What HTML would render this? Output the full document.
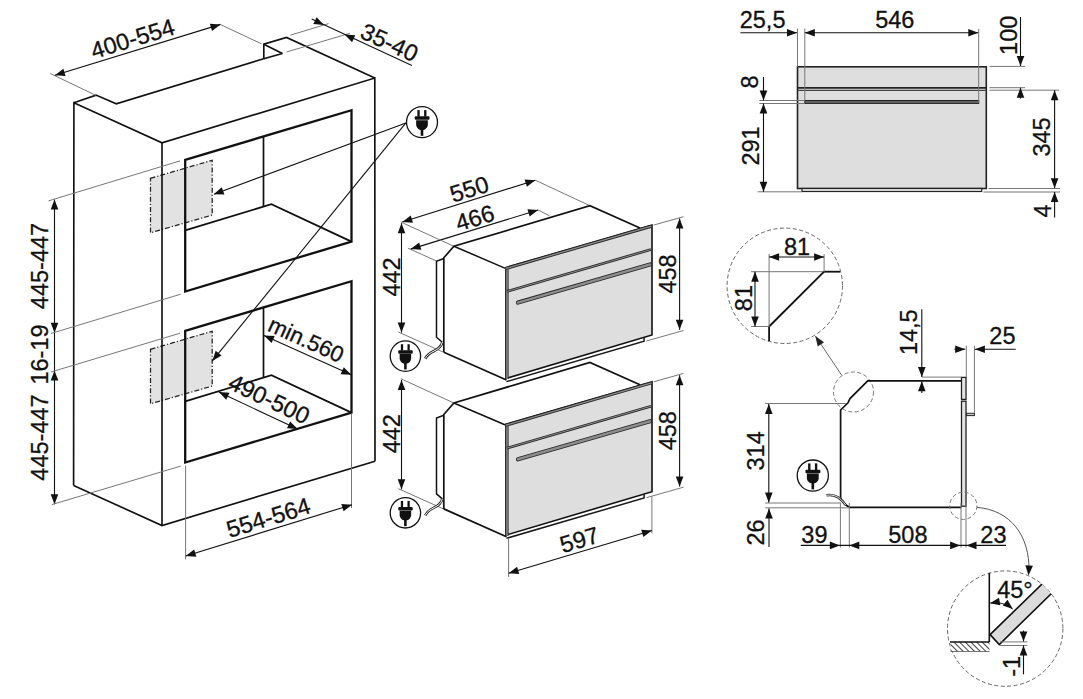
<!DOCTYPE html><html><head><meta charset="utf-8"><style>html,body{margin:0;padding:0;background:#fff;}svg{display:block;}text{font-family:"Liberation Sans",sans-serif;fill:#111;}</style></head><body>
<svg width="1083" height="699" viewBox="0 0 1083 699">
<rect width="1083" height="699" fill="#fff"/>
<polygon points="150.5,178.3 212.2,160.3 212.2,215.1 150.5,232.8" fill="#e2e2e2" stroke="#222" stroke-width="1.25" stroke-linejoin="miter" stroke-dasharray="5,2,1.2,2"/>
<polygon points="150.5,349.3 212.2,331.3 212.2,386.1 150.5,403.8" fill="#e2e2e2" stroke="#222" stroke-width="1.25" stroke-linejoin="miter" stroke-dasharray="5,2,1.2,2"/>
<polyline points="73.9,102.7 96,95.1 116.3,103.8 263.8,58.7 263.8,44.2 286.5,37.5 374.8,78" fill="none" stroke="#111" stroke-width="1.65" stroke-linejoin="miter" />
<line x1="263.8" y1="44.2" x2="282.4" y2="53.5" stroke="#111" stroke-width="1.65" />
<line x1="282.4" y1="53.5" x2="263.8" y2="58.7" stroke="#111" stroke-width="1.65" />
<polyline points="73.6,485.5 73.9,102.7 162,142.8 374.8,78 375,461.2" fill="none" stroke="#111" stroke-width="1.65" stroke-linejoin="miter" />
<polyline points="73.6,485.5 162,525.5 375,461.2" fill="none" stroke="#111" stroke-width="1.65" stroke-linejoin="miter" />
<line x1="162" y1="142.8" x2="162" y2="525.5" stroke="#111" stroke-width="1.65" />
<polygon points="185.2,159.8 351.5,110.2 351.5,241.6 185.2,291.5" fill="none" stroke="#111" stroke-width="2.3" stroke-linejoin="miter" />
<line x1="263.5" y1="136.3" x2="263.5" y2="206.8" stroke="#111" stroke-width="1.7" />
<polyline points="185.2,230.4 271.4,204.2 351.5,241.6" fill="none" stroke="#111" stroke-width="1.8" stroke-linejoin="miter" />
<polygon points="185.2,330.8 351.5,281.2 351.5,412.6 185.2,462.5" fill="none" stroke="#111" stroke-width="2.3" stroke-linejoin="miter" />
<line x1="263.5" y1="307.3" x2="263.5" y2="377.8" stroke="#111" stroke-width="1.7" />
<polyline points="185.2,401.4 271.4,375.2 351.5,412.6" fill="none" stroke="#111" stroke-width="1.8" stroke-linejoin="miter" />
<line x1="50.2" y1="73.5" x2="95.8" y2="95.3" stroke="#777" stroke-width="1.0" />
<line x1="220.5" y1="24.6" x2="261.5" y2="43.8" stroke="#777" stroke-width="1.0" />
<line x1="54.9" y1="75.3" x2="220.5" y2="24.4" stroke="#111" stroke-width="1.1" />
<polygon points="54.9,75.3 63.34,68.73 65.58,75.99" fill="#111"/>
<polygon points="220.5,24.4 212.06,30.97 209.82,23.71" fill="#111"/>
<text transform="translate(132.5,38.6) rotate(-17.1)" x="0" y="8.22" text-anchor="middle" font-size="23.5" stroke="#111" stroke-width="0.3">400-554</text>
<line x1="290.3" y1="35.2" x2="328.5" y2="23.6" stroke="#777" stroke-width="1.0" />
<line x1="286.5" y1="52" x2="349.8" y2="33.3" stroke="#777" stroke-width="1.0" />
<line x1="311.7" y1="19" x2="411.9" y2="65.6" stroke="#111" stroke-width="1.1" />
<polygon points="324,24.9 313.34,24 316.63,17.15" fill="#111"/>
<polygon points="344.6,34.6 355.27,35.33 352.09,42.24" fill="#111"/>
<text transform="translate(389.5,42.3) rotate(24.8)" x="0" y="8.22" text-anchor="middle" font-size="23.5" stroke="#111" stroke-width="0.3">35-40</text>
<line x1="54.5" y1="199.5" x2="54.5" y2="504.2" stroke="#111" stroke-width="1.1" />
<polygon points="54.5,199.5 58.3,209.5 50.7,209.5" fill="#111"/>
<polygon points="54.5,332.8 50.7,322.8 58.3,322.8" fill="#111"/>
<polygon points="54.5,370.4 58.3,380.4 50.7,380.4" fill="#111"/>
<polygon points="54.5,504.2 50.7,494.2 58.3,494.2" fill="#111"/>
<line x1="48.5" y1="200.9" x2="180" y2="160.9" stroke="#777" stroke-width="1.0" />
<line x1="51" y1="333.5" x2="180.7" y2="294.2" stroke="#777" stroke-width="1.0" />
<line x1="51" y1="372" x2="180" y2="333.2" stroke="#777" stroke-width="1.0" />
<line x1="51.8" y1="504.6" x2="180.7" y2="466.1" stroke="#777" stroke-width="1.0" />
<text transform="translate(40,266) rotate(-90)" x="0" y="8.22" text-anchor="middle" font-size="23.5" stroke="#111" stroke-width="0.3">445-447</text>
<text transform="translate(40,354.5) rotate(-90)" x="0" y="8.22" text-anchor="middle" font-size="23.5" stroke="#111" stroke-width="0.3">16-19</text>
<text transform="translate(40,437.5) rotate(-90)" x="0" y="8.22" text-anchor="middle" font-size="23.5" stroke="#111" stroke-width="0.3">445-447</text>
<line x1="405.9" y1="122.9" x2="214" y2="194.3" stroke="#111" stroke-width="1.1" />
<polygon points="213.7,194.3 221.75,187.26 224.4,194.38" fill="#111"/>
<line x1="405.9" y1="122.9" x2="212.3" y2="360.9" stroke="#111" stroke-width="1.1" />
<polygon points="212.3,360.9 215.66,350.74 221.56,355.54" fill="#111"/>
<g transform="translate(422,122.2)">
<circle cx="0" cy="0" r="15.5" fill="#fff" stroke="#111" stroke-width="1.3"/>
<g transform="scale(1.01)" fill="#111">
<rect x="-4.6" y="-12" width="2.3" height="6.5"/>
<rect x="2.1" y="-12" width="2.3" height="6.5"/>
<rect x="-7.2" y="-5.8" width="14.6" height="3.4" rx="1"/>
<path d="M-5.8,-2 L5.8,-2 L5.8,2.5 Q5.5,6 2,7.6 L-2,7.6 Q-5.5,6 -5.8,2.5 Z"/>
<rect x="-1.3" y="7" width="2.6" height="6.5"/>
</g></g>
<line x1="264" y1="335.4" x2="351.3" y2="374.8" stroke="#111" stroke-width="1.1" />
<polygon points="264,335.4 274.68,336.05 271.55,342.98" fill="#111"/>
<polygon points="351.3,374.8 340.62,374.15 343.75,367.22" fill="#111"/>
<text transform="translate(306.2,339.5) rotate(24.3)" x="0" y="7.87" text-anchor="middle" font-size="22.5" stroke="#111" stroke-width="0.3">min.560</text>
<line x1="218.8" y1="392" x2="297.6" y2="429.1" stroke="#111" stroke-width="1.1" />
<polygon points="218.8,392 229.47,392.82 226.23,399.7" fill="#111"/>
<polygon points="297.6,429.1 286.93,428.28 290.17,421.4" fill="#111"/>
<text transform="translate(269.2,399) rotate(25.2)" x="0" y="8.22" text-anchor="middle" font-size="23.5" stroke="#111" stroke-width="0.3">490-500</text>
<line x1="185.6" y1="465.6" x2="185.6" y2="559.4" stroke="#777" stroke-width="1.0" />
<line x1="351.5" y1="413.5" x2="351.5" y2="508" stroke="#777" stroke-width="1.0" />
<line x1="185.7" y1="556" x2="352" y2="504.7" stroke="#111" stroke-width="1.1" />
<polygon points="185.7,556 194.14,549.42 196.38,556.68" fill="#111"/>
<polygon points="352,504.7 343.56,511.28 341.32,504.02" fill="#111"/>
<text transform="translate(268.3,517.5) rotate(-17.1)" x="0" y="8.22" text-anchor="middle" font-size="23.5" stroke="#111" stroke-width="0.3">554-564</text>
<g transform="translate(0,0)">
<line x1="535.3" y1="180.2" x2="589.9" y2="205.7" stroke="#777" stroke-width="1.0" />
<line x1="407.9" y1="248.1" x2="436.5" y2="261" stroke="#777" stroke-width="1.0" />
<line x1="538.1" y1="210" x2="549.5" y2="215.8" stroke="#777" stroke-width="1.0" />
<line x1="402.3" y1="222.1" x2="535.3" y2="180.2" stroke="#111" stroke-width="1.1" />
<polygon points="402.3,222.1 410.7,215.47 412.98,222.72" fill="#111"/>
<polygon points="535.3,180.2 526.9,186.83 524.62,179.58" fill="#111"/>
<line x1="410.7" y1="249.1" x2="538.1" y2="210" stroke="#111" stroke-width="1.1" />
<polygon points="410.7,249.1 419.14,242.53 421.37,249.8" fill="#111"/>
<polygon points="538.1,210 529.66,216.57 527.43,209.3" fill="#111"/>
<text transform="translate(469.3,189) rotate(-17.5)" x="0" y="8.22" text-anchor="middle" font-size="23.5" stroke="#111" stroke-width="0.3">550</text>
<text transform="translate(474.9,217.9) rotate(-17)" x="0" y="8.22" text-anchor="middle" font-size="23.5" stroke="#111" stroke-width="0.3">466</text>
<line x1="400.8" y1="222" x2="453.9" y2="246.3" stroke="#777" stroke-width="1.0" />
<line x1="398.3" y1="332" x2="443.4" y2="352.2" stroke="#777" stroke-width="1.0" />
<line x1="401.5" y1="223.2" x2="401.5" y2="332.6" stroke="#111" stroke-width="1.1" />
<polygon points="401.5,223.2 405.3,233.2 397.7,233.2" fill="#111"/>
<polygon points="401.5,332.6 397.7,322.6 405.3,322.6" fill="#111"/>
<text transform="translate(392,277) rotate(-90)" x="0" y="8.22" text-anchor="middle" font-size="23.5" stroke="#111" stroke-width="0.3">442</text>
<polyline points="443.8,352.2 443.8,257.8 453.9,246.3 589.9,205.7 640,228" fill="none" stroke="#111" stroke-width="1.7" stroke-linejoin="miter" />
<line x1="453.9" y1="246.3" x2="506" y2="268.6" stroke="#111" stroke-width="1.5" />
<line x1="443.8" y1="352.2" x2="506.5" y2="380" stroke="#111" stroke-width="1.7" />
<polyline points="443.8,258.5 436.5,261.3 436.5,337.2 442.3,342.2" fill="none" stroke="#111" stroke-width="1.5" stroke-linejoin="miter" />
<polygon points="506,267.5 652,225.1 652,335 506,378.4" fill="#dedede" stroke="#111" stroke-width="1.6" stroke-linejoin="miter" />
<line x1="507" y1="268" x2="507" y2="379" stroke="#262626" stroke-width="3.2" stroke-linecap="butt"/>
<line x1="507" y1="268" x2="507" y2="379" stroke="#8c8c8c" stroke-width="1.5000000000000002" stroke-linecap="butt"/>
<line x1="505.5" y1="268.6" x2="651.5" y2="226.2" stroke="#262626" stroke-width="3.0" stroke-linecap="butt"/>
<line x1="505.5" y1="268.6" x2="651.5" y2="226.2" stroke="#8c8c8c" stroke-width="1.3" stroke-linecap="butt"/>
<line x1="507" y1="291.4" x2="651" y2="249.5" stroke="#262626" stroke-width="2.7" stroke-linecap="butt"/>
<line x1="507" y1="291.4" x2="651" y2="249.5" stroke="#8c8c8c" stroke-width="1.0000000000000002" stroke-linecap="butt"/>
<line x1="518" y1="302.6" x2="650" y2="264.5" stroke="#262626" stroke-width="4.2" stroke-linecap="round"/>
<line x1="518" y1="302.6" x2="650" y2="264.5" stroke="#8c8c8c" stroke-width="2.5" stroke-linecap="round"/>
<polyline points="506.5,381.6 644.1,341.3 644.1,337.6" fill="none" stroke="#1a1a1a" stroke-width="1.5" stroke-linejoin="miter" />
<line x1="653.7" y1="225.1" x2="683.5" y2="216.7" stroke="#777" stroke-width="1.0" />
<line x1="646.3" y1="341" x2="683.5" y2="330.5" stroke="#777" stroke-width="1.0" />
<line x1="679.6" y1="218.5" x2="679.6" y2="329.8" stroke="#111" stroke-width="1.1" />
<polygon points="679.6,218.5 683.4,228.5 675.8,228.5" fill="#111"/>
<polygon points="679.6,329.8 675.8,319.8 683.4,319.8" fill="#111"/>
<text transform="translate(668.1,274) rotate(-90)" x="0" y="8.22" text-anchor="middle" font-size="23.5" stroke="#111" stroke-width="0.3">458</text>
<path d="M442.2,342.6 C441,347 438,349 434,351 C430,353 427,355 425.2,358.6" fill="none" stroke="#222" stroke-width="2.6"/>
<path d="M442.2,342.6 C441,347 438,349 434,351 C430,353 427,355 425.2,358.6" fill="none" stroke="#fff" stroke-width="1.0"/>
<g transform="translate(405.4,356.1)">
<circle cx="0" cy="0" r="15.2" fill="#fff" stroke="#111" stroke-width="1.3"/>
<g transform="scale(0.99)" fill="#111">
<rect x="-4.6" y="-12" width="2.3" height="6.5"/>
<rect x="2.1" y="-12" width="2.3" height="6.5"/>
<rect x="-7.2" y="-5.8" width="14.6" height="3.4" rx="1"/>
<path d="M-5.8,-2 L5.8,-2 L5.8,2.5 Q5.5,6 2,7.6 L-2,7.6 Q-5.5,6 -5.8,2.5 Z"/>
<rect x="-1.3" y="7" width="2.6" height="6.5"/>
</g></g>
</g>
<g transform="translate(0,156.7)">
<line x1="400.8" y1="222" x2="453.9" y2="246.3" stroke="#777" stroke-width="1.0" />
<line x1="398.3" y1="332" x2="443.4" y2="352.2" stroke="#777" stroke-width="1.0" />
<line x1="401.5" y1="223.2" x2="401.5" y2="332.6" stroke="#111" stroke-width="1.1" />
<polygon points="401.5,223.2 405.3,233.2 397.7,233.2" fill="#111"/>
<polygon points="401.5,332.6 397.7,322.6 405.3,322.6" fill="#111"/>
<text transform="translate(392,277) rotate(-90)" x="0" y="8.22" text-anchor="middle" font-size="23.5" stroke="#111" stroke-width="0.3">442</text>
<polyline points="443.8,352.2 443.8,257.8 453.9,246.3 589.9,205.7 640,228" fill="none" stroke="#111" stroke-width="1.7" stroke-linejoin="miter" />
<line x1="453.9" y1="246.3" x2="506" y2="268.6" stroke="#111" stroke-width="1.5" />
<line x1="443.8" y1="352.2" x2="506.5" y2="380" stroke="#111" stroke-width="1.7" />
<polyline points="443.8,258.5 436.5,261.3 436.5,337.2 442.3,342.2" fill="none" stroke="#111" stroke-width="1.5" stroke-linejoin="miter" />
<polygon points="506,267.5 652,225.1 652,335 506,378.4" fill="#dedede" stroke="#111" stroke-width="1.6" stroke-linejoin="miter" />
<line x1="507" y1="268" x2="507" y2="379" stroke="#262626" stroke-width="3.2" stroke-linecap="butt"/>
<line x1="507" y1="268" x2="507" y2="379" stroke="#8c8c8c" stroke-width="1.5000000000000002" stroke-linecap="butt"/>
<line x1="505.5" y1="268.6" x2="651.5" y2="226.2" stroke="#262626" stroke-width="3.0" stroke-linecap="butt"/>
<line x1="505.5" y1="268.6" x2="651.5" y2="226.2" stroke="#8c8c8c" stroke-width="1.3" stroke-linecap="butt"/>
<line x1="507" y1="291.4" x2="651" y2="249.5" stroke="#262626" stroke-width="2.7" stroke-linecap="butt"/>
<line x1="507" y1="291.4" x2="651" y2="249.5" stroke="#8c8c8c" stroke-width="1.0000000000000002" stroke-linecap="butt"/>
<line x1="518" y1="302.6" x2="650" y2="264.5" stroke="#262626" stroke-width="4.2" stroke-linecap="round"/>
<line x1="518" y1="302.6" x2="650" y2="264.5" stroke="#8c8c8c" stroke-width="2.5" stroke-linecap="round"/>
<polyline points="506.5,381.6 644.1,341.3 644.1,337.6" fill="none" stroke="#1a1a1a" stroke-width="1.5" stroke-linejoin="miter" />
<line x1="653.7" y1="225.1" x2="683.5" y2="216.7" stroke="#777" stroke-width="1.0" />
<line x1="646.3" y1="341" x2="683.5" y2="330.5" stroke="#777" stroke-width="1.0" />
<line x1="679.6" y1="218.5" x2="679.6" y2="329.8" stroke="#111" stroke-width="1.1" />
<polygon points="679.6,218.5 683.4,228.5 675.8,228.5" fill="#111"/>
<polygon points="679.6,329.8 675.8,319.8 683.4,319.8" fill="#111"/>
<text transform="translate(668.1,274) rotate(-90)" x="0" y="8.22" text-anchor="middle" font-size="23.5" stroke="#111" stroke-width="0.3">458</text>
<path d="M442.2,342.6 C441,347 438,349 434,351 C430,353 427,355 425.2,358.6" fill="none" stroke="#222" stroke-width="2.6"/>
<path d="M442.2,342.6 C441,347 438,349 434,351 C430,353 427,355 425.2,358.6" fill="none" stroke="#fff" stroke-width="1.0"/>
<g transform="translate(405.4,356.1)">
<circle cx="0" cy="0" r="15.2" fill="#fff" stroke="#111" stroke-width="1.3"/>
<g transform="scale(0.99)" fill="#111">
<rect x="-4.6" y="-12" width="2.3" height="6.5"/>
<rect x="2.1" y="-12" width="2.3" height="6.5"/>
<rect x="-7.2" y="-5.8" width="14.6" height="3.4" rx="1"/>
<path d="M-5.8,-2 L5.8,-2 L5.8,2.5 Q5.5,6 2,7.6 L-2,7.6 Q-5.5,6 -5.8,2.5 Z"/>
<rect x="-1.3" y="7" width="2.6" height="6.5"/>
</g></g>
</g>
<line x1="508.6" y1="538" x2="508.6" y2="577" stroke="#777" stroke-width="1.0" />
<line x1="651.9" y1="496" x2="651.9" y2="533.5" stroke="#777" stroke-width="1.0" />
<line x1="508.6" y1="573.3" x2="651.9" y2="530.5" stroke="#111" stroke-width="1.1" />
<polygon points="508.6,573.3 517.09,566.8 519.27,574.08" fill="#111"/>
<polygon points="651.9,530.5 643.41,537 641.23,529.72" fill="#111"/>
<text transform="translate(579.3,539.7) rotate(-16.6)" x="0" y="8.22" text-anchor="middle" font-size="23.5" stroke="#111" stroke-width="0.3">597</text>
<rect x="797.5" y="66.8" width="188.8" height="121.7" fill="#dedede" stroke="#222" stroke-width="1.6"/>
<line x1="798" y1="87.8" x2="986" y2="87.8" stroke="#222" stroke-width="1.8" />
<line x1="798" y1="90.4" x2="986" y2="90.4" stroke="#444" stroke-width="1.2" />
<rect x="804.8" y="100.5" width="173.9" height="2.9" fill="#666" stroke="#222" stroke-width="1.0"/>
<rect x="802.0" y="188.5" width="179.7" height="3.0" fill="#e8e8e8" stroke="#222" stroke-width="1.2"/>
<line x1="797.5" y1="28.5" x2="797.5" y2="66.8" stroke="#777" stroke-width="1.0" />
<line x1="804.8" y1="28.5" x2="804.8" y2="100.5" stroke="#777" stroke-width="1.0" />
<line x1="978.7" y1="28.9" x2="978.7" y2="103" stroke="#777" stroke-width="1.0" />
<line x1="740.4" y1="32.7" x2="797" y2="32.7" stroke="#111" stroke-width="1.1" />
<polygon points="797,32.7 787,36.5 787,28.9" fill="#111"/>
<line x1="804.8" y1="32.7" x2="978.3" y2="32.7" stroke="#111" stroke-width="1.1" />
<polygon points="804.8,32.7 814.8,28.9 814.8,36.5" fill="#111"/>
<polygon points="978.3,32.7 968.3,36.5 968.3,28.9" fill="#111"/>
<text transform="translate(762.6,19.39) rotate(0)" x="0" y="8.22" text-anchor="middle" font-size="23.5" stroke="#111" stroke-width="0.3">25,5</text>
<text transform="translate(894.8,20.2) rotate(0)" x="0" y="8.22" text-anchor="middle" font-size="23.5" stroke="#111" stroke-width="0.3">546</text>
<line x1="989.4" y1="66.4" x2="1025.1" y2="66.4" stroke="#777" stroke-width="1.0" />
<line x1="989.4" y1="87.7" x2="1025.1" y2="87.7" stroke="#777" stroke-width="1.0" />
<line x1="989.4" y1="90.2" x2="1059.2" y2="90.2" stroke="#777" stroke-width="1.0" />
<line x1="1020.5" y1="17" x2="1020.5" y2="66" stroke="#111" stroke-width="1.1" />
<polygon points="1020.5,66 1016.7,56 1024.3,56" fill="#111"/>
<line x1="1020.5" y1="87.7" x2="1020.5" y2="98.5" stroke="#111" stroke-width="1.1" />
<polygon points="1020.5,87.7 1024.3,97.7 1016.7,97.7" fill="#111"/>
<text transform="translate(1008.5,35.3) rotate(-90)" x="0" y="8.22" text-anchor="middle" font-size="23.5" stroke="#111" stroke-width="0.3">100</text>
<line x1="988.5" y1="188.5" x2="1060" y2="188.5" stroke="#777" stroke-width="1.0" />
<line x1="983.4" y1="192" x2="1060" y2="192" stroke="#777" stroke-width="1.0" />
<line x1="1054.6" y1="90.2" x2="1054.6" y2="188.2" stroke="#111" stroke-width="1.1" />
<polygon points="1054.6,90.2 1058.4,100.2 1050.8,100.2" fill="#111"/>
<polygon points="1054.6,188.2 1050.8,178.2 1058.4,178.2" fill="#111"/>
<line x1="1054.6" y1="192" x2="1054.6" y2="217.5" stroke="#111" stroke-width="1.1" />
<polygon points="1054.6,192 1058.4,202 1050.8,202" fill="#111"/>
<text transform="translate(1042,137) rotate(-90)" x="0" y="8.22" text-anchor="middle" font-size="23.5" stroke="#111" stroke-width="0.3">345</text>
<text transform="translate(1042.5,211) rotate(-90)" x="0" y="8.22" text-anchor="middle" font-size="23.5" stroke="#111" stroke-width="0.3">4</text>
<line x1="759.3" y1="100.5" x2="804.8" y2="100.5" stroke="#777" stroke-width="1.0" />
<line x1="759.3" y1="103.5" x2="804.8" y2="103.5" stroke="#777" stroke-width="1.0" />
<line x1="757.6" y1="191.8" x2="802" y2="191.8" stroke="#777" stroke-width="1.0" />
<line x1="763.5" y1="77" x2="763.5" y2="100.5" stroke="#111" stroke-width="1.1" />
<polygon points="763.5,100.5 759.7,90.5 767.3,90.5" fill="#111"/>
<line x1="763.5" y1="103.5" x2="763.5" y2="191.8" stroke="#111" stroke-width="1.1" />
<polygon points="763.5,103.5 767.3,113.5 759.7,113.5" fill="#111"/>
<polygon points="763.5,191.8 759.7,181.8 767.3,181.8" fill="#111"/>
<text transform="translate(749.8,82) rotate(-90)" x="0" y="8.22" text-anchor="middle" font-size="23.5" stroke="#111" stroke-width="0.3">8</text>
<text transform="translate(751,146) rotate(-90)" x="0" y="8.22" text-anchor="middle" font-size="23.5" stroke="#111" stroke-width="0.3">291</text>
<circle cx="784.8" cy="285.8" r="57.7" fill="none" stroke="#666" stroke-width="1.0" stroke-dasharray="4,2.5"/>
<line x1="751" y1="271.7" x2="824.1" y2="271.7" stroke="#777" stroke-width="1.0" />
<line x1="824.1" y1="271.7" x2="840.2" y2="271.7" stroke="#111" stroke-width="1.8" />
<line x1="824.1" y1="271.7" x2="769.1" y2="326.5" stroke="#111" stroke-width="1.8" />
<line x1="769.1" y1="254" x2="769.1" y2="326.5" stroke="#777" stroke-width="1.0" />
<line x1="769.1" y1="326.5" x2="769.1" y2="341.2" stroke="#111" stroke-width="1.8" />
<line x1="751" y1="326.5" x2="769.1" y2="326.5" stroke="#777" stroke-width="1.0" />
<line x1="824.1" y1="254" x2="824.1" y2="271.7" stroke="#777" stroke-width="1.0" />
<line x1="769.1" y1="257" x2="824.1" y2="257" stroke="#111" stroke-width="1.1" />
<polygon points="769.1,257 779.1,253.2 779.1,260.8" fill="#111"/>
<polygon points="824.1,257 814.1,260.8 814.1,253.2" fill="#111"/>
<text transform="translate(797.1,246.5) rotate(0)" x="0" y="8.22" text-anchor="middle" font-size="23.5" stroke="#111" stroke-width="0.3">81</text>
<line x1="755" y1="271.7" x2="755" y2="326.5" stroke="#111" stroke-width="1.1" />
<polygon points="755,271.7 758.8,281.7 751.2,281.7" fill="#111"/>
<polygon points="755,326.5 751.2,316.5 758.8,316.5" fill="#111"/>
<text transform="translate(744,298.1) rotate(-90)" x="0" y="8.22" text-anchor="middle" font-size="23.5" stroke="#111" stroke-width="0.3">81</text>
<line x1="841.8" y1="375.4" x2="815.5" y2="336.1" stroke="#666" stroke-width="1.0" />
<polygon points="815.3,336 824.03,342.18 817.73,346.42" fill="#222"/>
<circle cx="853.5" cy="392.0" r="20" fill="none" stroke="#777" stroke-width="1.0" stroke-dasharray="4,2.5"/>
<polyline points="961.5,380.8 867.7,380.8 850,398.6 848,402.8 840.6,410 840.6,497.5" fill="none" stroke="#111" stroke-width="1.7" stroke-linejoin="miter" />
<path d="M840.6,497.5 Q842,503 849.3,507.3 L961.5,507.3" fill="none" stroke="#111" stroke-width="1.7"/>
<rect x="961.5" y="377.4" width="4.5" height="22" fill="#e4e4e4" stroke="#222" stroke-width="1.3"/>
<rect x="961.5" y="401.2" width="4.5" height="105" fill="#e4e4e4" stroke="#222" stroke-width="1.3"/>
<rect x="966.6" y="413.3" width="7.8" height="2.3" fill="#ccc" stroke="#222" stroke-width="1.0"/>
<line x1="922" y1="377.1" x2="961.5" y2="377.1" stroke="#777" stroke-width="1.0" />
<line x1="921.8" y1="309.3" x2="921.8" y2="377.1" stroke="#111" stroke-width="1.1" />
<polygon points="921.8,377.1 918,367.1 925.6,367.1" fill="#111"/>
<line x1="921.8" y1="381.3" x2="921.8" y2="393" stroke="#111" stroke-width="1.1" />
<polygon points="921.8,381.3 925.6,391.3 918,391.3" fill="#111"/>
<text transform="translate(909.2,332.2) rotate(-90)" x="0" y="8.22" text-anchor="middle" font-size="23.5" stroke="#111" stroke-width="0.3">14,5</text>
<line x1="966.3" y1="345.7" x2="966.3" y2="377" stroke="#777" stroke-width="1.0" />
<line x1="974.4" y1="345.7" x2="974.4" y2="413.3" stroke="#777" stroke-width="1.0" />
<line x1="954.3" y1="349.2" x2="965.2" y2="349.2" stroke="#111" stroke-width="1.1" />
<polygon points="965.2,349.2 955.2,353 955.2,345.4" fill="#111"/>
<line x1="974.9" y1="349.2" x2="1015.8" y2="349.2" stroke="#111" stroke-width="1.1" />
<polygon points="974.9,349.2 984.9,345.4 984.9,353" fill="#111"/>
<text transform="translate(1002.4,336) rotate(0)" x="0" y="8.22" text-anchor="middle" font-size="23.5" stroke="#111" stroke-width="0.3">25</text>
<line x1="765.2" y1="403.5" x2="845.7" y2="403.5" stroke="#777" stroke-width="1.0" />
<line x1="765.2" y1="503" x2="841" y2="503" stroke="#777" stroke-width="1.0" />
<line x1="765.2" y1="507.8" x2="849.3" y2="507.8" stroke="#777" stroke-width="1.0" />
<line x1="768.8" y1="404" x2="768.8" y2="502.5" stroke="#111" stroke-width="1.1" />
<polygon points="768.8,404 772.6,414 765,414" fill="#111"/>
<polygon points="768.8,502.5 765,492.5 772.6,492.5" fill="#111"/>
<line x1="769" y1="508.5" x2="769" y2="547" stroke="#111" stroke-width="1.1" />
<polygon points="769,508.5 772.8,518.5 765.2,518.5" fill="#111"/>
<text transform="translate(755.6,450.9) rotate(-90)" x="0" y="8.22" text-anchor="middle" font-size="23.5" stroke="#111" stroke-width="0.3">314</text>
<text transform="translate(755.8,532.5) rotate(-90)" x="0" y="8.22" text-anchor="middle" font-size="23.5" stroke="#111" stroke-width="0.3">26</text>
<g transform="translate(812.8,475.6)">
<circle cx="0" cy="0" r="15.6" fill="#fff" stroke="#111" stroke-width="1.3"/>
<g transform="scale(1.02)" fill="#111">
<rect x="-4.6" y="-12" width="2.3" height="6.5"/>
<rect x="2.1" y="-12" width="2.3" height="6.5"/>
<rect x="-7.2" y="-5.8" width="14.6" height="3.4" rx="1"/>
<path d="M-5.8,-2 L5.8,-2 L5.8,2.5 Q5.5,6 2,7.6 L-2,7.6 Q-5.5,6 -5.8,2.5 Z"/>
<rect x="-1.3" y="7" width="2.6" height="6.5"/>
</g></g>
<path d="M826.5,495.3 C834,494 840,497 845.7,505" fill="none" stroke="#222" stroke-width="2.4"/>
<path d="M826.5,495.3 C834,494 840,497 845.7,505" fill="none" stroke="#fff" stroke-width="0.9"/>
<line x1="840.4" y1="503" x2="840.4" y2="547.5" stroke="#777" stroke-width="1.0" />
<line x1="849.3" y1="503" x2="849.3" y2="547.5" stroke="#777" stroke-width="1.0" />
<line x1="961" y1="503" x2="961" y2="547.5" stroke="#777" stroke-width="1.0" />
<line x1="966" y1="503" x2="966" y2="547.5" stroke="#777" stroke-width="1.0" />
<line x1="800.8" y1="545.4" x2="1006" y2="545.4" stroke="#111" stroke-width="1.1" />
<polygon points="839.8,545.4 829.8,549.2 829.8,541.6" fill="#111"/>
<polygon points="849.3,545.4 859.3,541.6 859.3,549.2" fill="#111"/>
<polygon points="960.1,545.4 950.1,549.2 950.1,541.6" fill="#111"/>
<polygon points="966.5,545.4 976.5,541.6 976.5,549.2" fill="#111"/>
<text transform="translate(814.4,534.3) rotate(0)" x="0" y="8.22" text-anchor="middle" font-size="23.5" stroke="#111" stroke-width="0.3">39</text>
<text transform="translate(907.9,534.3) rotate(0)" x="0" y="8.22" text-anchor="middle" font-size="23.5" stroke="#111" stroke-width="0.3">508</text>
<text transform="translate(993.4,534.3) rotate(0)" x="0" y="8.22" text-anchor="middle" font-size="23.5" stroke="#111" stroke-width="0.3">23</text>
<circle cx="963.3" cy="505.8" r="13.6" fill="none" stroke="#777" stroke-width="1.0" stroke-dasharray="4,2.5"/>
<path d="M977,507.4 C1010,510 1030,535 1029,572" fill="none" stroke="#555" stroke-width="1.0"/>
<polygon points="1028.5,575.5 1025.35,565.28 1032.94,565.77" fill="#111"/>
<defs><clipPath id="cc2"><circle cx="1005.2" cy="628.6" r="57.7"/></clipPath><pattern id="hat" width="4" height="4" patternUnits="userSpaceOnUse" patternTransform="rotate(-45)"><rect width="4" height="4" fill="#fff"/><line x1="0" y1="0" x2="0" y2="4" stroke="#111" stroke-width="1.6"/></pattern></defs>
<circle cx="1005.2" cy="628.6" r="57.7" fill="none" stroke="#666" stroke-width="1.0" stroke-dasharray="4,2.5"/>
<g clip-path="url(#cc2)">
<polygon points="990.1,634.6 999.3,644.5 1060.4,584.8 1051.4,574.9" fill="#dcdcdc" stroke="#111" stroke-width="1.6" stroke-linejoin="miter" />
</g>
<rect x="950.5" y="642.0" width="39" height="9.5" fill="url(#hat)"/>
<line x1="950.5" y1="651.5" x2="989.5" y2="651.5" stroke="#555" stroke-width="0.8" />
<line x1="989.3" y1="572.9" x2="989.3" y2="642" stroke="#111" stroke-width="1.6" />
<line x1="950" y1="642" x2="989.3" y2="642" stroke="#111" stroke-width="1.6" />
<path d="M990.5,603 Q1003,601 1012.6,609" fill="none" stroke="#111" stroke-width="1.0"/>
<polygon points="989.8,603.2 999.04,597.81 1000.29,605.3" fill="#111"/>
<polygon points="1012.8,609 1002.69,605.52 1007.55,599.68" fill="#111"/>
<text transform="translate(1015,589.5) rotate(0)" x="0" y="8.22" text-anchor="middle" font-size="23.5" stroke="#111" stroke-width="0.3">45°</text>
<line x1="1000" y1="641.9" x2="1027.5" y2="641.9" stroke="#777" stroke-width="1.0" />
<line x1="1000" y1="645.5" x2="1027.5" y2="645.5" stroke="#777" stroke-width="1.0" />
<line x1="1023.5" y1="630.6" x2="1023.5" y2="641.5" stroke="#111" stroke-width="1.1" />
<polygon points="1023.5,641.5 1019.7,631.5 1027.3,631.5" fill="#111"/>
<line x1="1023.5" y1="645.5" x2="1023.5" y2="674.3" stroke="#111" stroke-width="1.1" />
<polygon points="1023.5,645.5 1027.3,655.5 1019.7,655.5" fill="#111"/>
<text transform="translate(1011.5,666.4) rotate(-90)" x="0" y="8.22" text-anchor="middle" font-size="23.5" stroke="#111" stroke-width="0.3">-1</text>
</svg></body></html>
